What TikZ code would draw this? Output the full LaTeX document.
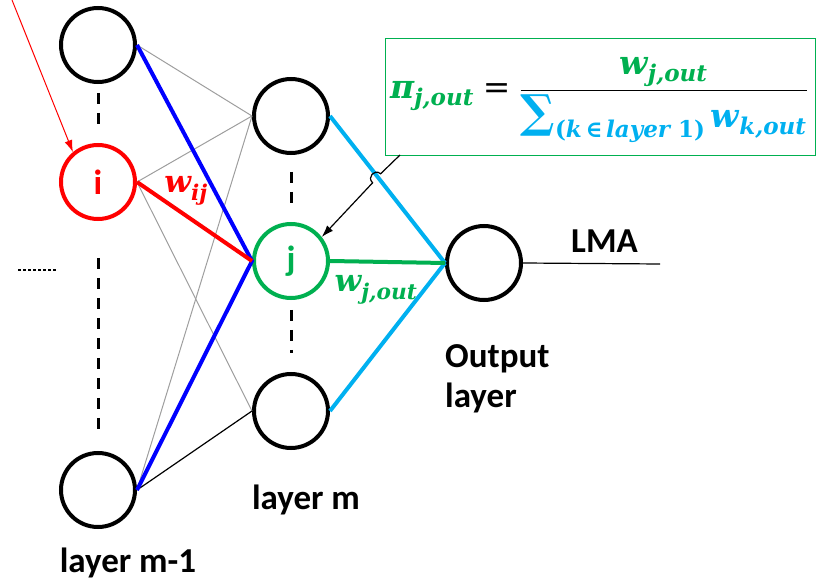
\documentclass[tikz,border=0pt]{standalone}
\usepackage{fontspec}
\setmainfont{Carlito}
\newfontfamily\mfont{DejaVu Serif}
\usepackage{amsmath}
\usetikzlibrary{arrows.meta,calc}
\definecolor{gcol}{HTML}{00B050}
\definecolor{ccol}{HTML}{00B0F0}
\definecolor{rcol}{HTML}{FF0000}
\definecolor{bcol}{HTML}{0000FF}
\newcommand\mt[1]{\text{\mfont\bfseries\itshape #1}}
\newcommand\mup[1]{\text{\mfont\bfseries #1}}
\newcommand\bigsum{\mbox{\mfont\bfseries\fontsize{36}{36}\selectfont ∑}}
\tikzset{
  neuron/.style={circle, draw=black, line width=4pt, minimum size=74pt, inner sep=0pt, font=\fontsize{35}{40}\selectfont\bfseries},
  thinedge/.style={draw=black!38, line width=1pt},
  blueedge/.style={draw=bcol, line width=4pt},
  cyanedge/.style={draw=ccol, line width=4pt},
  lbl/.style={font=\fontsize{35}{40}\selectfont\bfseries, inner sep=0pt},
  wlbl/.style={font=\fontsize{31}{34}\selectfont, inner sep=0pt},
  vdash/.style={line width=3pt, dash pattern=on 11pt off 9pt},
}
\begin{document}
\begin{tikzpicture}[x=1pt,y=-1pt]
\useasboundingbox (0,0) rectangle (823,580);
% nodes
\node[neuron] (ta) at (98,45) {};
\node[neuron, draw=rcol, text=rcol] (ti) at (98,182) {i};
\node[neuron] (tb) at (98,490) {};
\node[neuron] (ma) at (291,116) {};
\node[neuron, draw=gcol, text=gcol] (mj) at (291,261) {j};
\node[neuron] (mb) at (291,411) {};
\node[neuron] (out) at (484,263) {};
% dashed verticals
\draw[vdash] (98,93) -- (98,124);
\draw[vdash] (98,258) -- (98,431);
\draw[vdash] (291,172) -- (291,205);
\draw[vdash] (291,310) -- (291,353);
\draw[line width=2.5pt, dash pattern=on 2.5pt off 2.5pt] (18,270) -- (56,270);
% thin edges
\draw[thinedge] (ta.east) -- (ma.west);
\draw[thinedge] (ti.east) -- (ma.west);
\draw[thinedge] (ti.east) -- (mb.west);
\draw[thinedge] (tb.east) -- (ma.west);
\draw[draw=black, line width=1.2pt] (tb.east) -- (mb.west);
% highlighted edges
\draw[blueedge, line join=miter] (ta.east) -- (mj.west) -- (tb.east);
\draw[draw=rcol, line width=4pt] (ti.east) -- (mj.west);
\node[wlbl, text=rcol] (wij) at (186,191) {$\mt{w}_{\mt{ij}}$};
\draw[cyanedge] (ma.east) -- (out.west);
\draw[cyanedge] (mb.east) -- (out.west);
\draw[draw=gcol, line width=4pt] (mj.east) -- (out.west);
\node[wlbl, text=gcol] (wjout) at (376,290) {$\mt{w}_{\mt{j,out}}$};
% output line and labels
\coordinate (lmaend) at (660,264);
\draw[line width=1.2pt] (out.east) -- (lmaend);
\node[lbl, anchor=base west] (lma) at (571,253) {LMA};
\node[lbl, anchor=base west] (olab1) at (445,367) {Output};
\node[lbl, anchor=base west] (olab2) at (445,407) {layer};
\node[lbl, anchor=base] (lm) at (306,509) {layer m};
\node[lbl, anchor=base] (lm1) at (128,572) {layer m-1};
% formula box
\node[draw=gcol, line width=1.2pt, minimum width=430pt, minimum height=117pt, inner sep=0pt, anchor=north west] (box) at (385,38) {};
\node[inner sep=0pt, anchor=west, font=\fontsize{26}{30}\selectfont] (formula) at ($(box.west)+(5,3)$) {\resizebox{418pt}{!}{$\displaystyle \color{gcol}\mt{π}_{\mt{j,out}}\color{black} \mathrel{\text{\mfont =}} \frac{\color{gcol}\mt{w}_{\mt{j,out}}}{\color{ccol}\bigsum_{\mup{(}\mt{k}\,\mup{∈}\,\mt{layer}\mup{\ 1)}}\,\mt{w}_{\mt{k,out}}}$}};
% red arrow into i
\coordinate (rstart) at (12,0);
\draw[draw=rcol, line width=1pt, -{Latex[length=12pt,width=8pt]}] (rstart) -- (ti.130);
% black arrow with hop
\coordinate (bs) at (400,155);
\coordinate (h1) at (380.6,173.8);
\coordinate (h2) at (372.6,182.8);
\draw[line width=1.2pt, -{Latex[length=12pt,width=8pt]}] (bs) -- (h1) .. controls ($(h1)+(-6,-5.5)$) and ($(h2)+(-6,-5.5)$) .. (h2) -- (mj.38);
\end{tikzpicture}
\end{document}
